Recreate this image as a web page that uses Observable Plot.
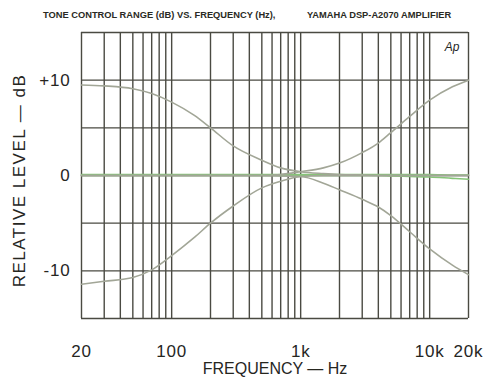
<!DOCTYPE html>
<html>
<head>
<meta charset="utf-8">
<script src="https://cdn.jsdelivr.net/npm/d3@7"></script>
<script src="https://cdn.jsdelivr.net/npm/@observablehq/plot@0.6"></script>
<style>
  html, body { margin: 0; padding: 0; background: #ffffff; }
  #wrap { position: relative; width: 492px; height: 379px; overflow: hidden; }
  #title { position: relative; height: 26px; font-family: "Liberation Sans", Arial, sans-serif; font-weight: bold; font-size: 9.3px; color: #2a2a24; }
  #title span { position: absolute; top: 10px; white-space: pre; }
  svg { display: block; }
</style>
</head>
<body>
<div id="wrap">
  <div id="title"><span id="t1" style="left:43px">TONE CONTROL RANGE (dB) VS. FREQUENCY (Hz),</span><span id="t2" style="left:307px">YAMAHA DSP-A2070 AMPLIFIER</span></div>
  <div id="chart"></div>
</div>
<script>
// Frequencies (Hz) at which curves were read
const freqs = [20, 30, 50, 70, 100, 150, 200, 300, 500, 700, 1000, 1500, 2000, 3000, 4000, 5000, 7000, 10000, 15000, 20000];
// Tone control extremes (dB)
const bassBoost   = [9.5, 9.4, 9.1, 8.6, 7.7, 6.3, 5.0, 3.1, 1.6, 0.8, 0.4, 0.2, 0.1, 0.05, 0, 0, 0, 0, 0, 0];
const bassCut     = [-11.4, -11.1, -10.7, -9.9, -8.4, -6.5, -5.0, -3.2, -1.3, -0.6, -0.1, 0, 0, 0, 0, 0, 0, 0, 0, 0];
const trebleBoost = [0, 0, 0, 0, 0, 0, 0, 0, 0, 0.1, 0.4, 0.8, 1.3, 2.4, 3.4, 4.5, 6.2, 7.9, 9.3, 10.0];
const trebleCut   = [0, 0, 0, 0, 0, 0, 0, 0, 0, -0.05, -0.1, -0.8, -1.5, -2.5, -3.3, -4.2, -5.9, -7.7, -9.4, -10.4];
// Flat (centre) settings
const flatA       = [0.1, 0.1, 0.1, 0.1, 0.1, 0.1, 0.1, 0.1, 0.1, 0.1, 0.1, 0.1, 0.1, 0.1, 0.1, 0.1, 0.1, 0.1, 0.05, 0.05];
const flatB       = [0, 0, 0, 0, 0, 0, 0, 0, 0, 0, 0, 0, 0, 0, 0, -0.05, -0.1, -0.15, -0.3, -0.4];

// Grid and tick labels
const gridFreqs = [20,30,40,50,60,70,80,90,100,200,300,400,500,600,700,800,900,1000,2000,3000,4000,5000,6000,7000,8000,9000,10000,20000];
const gridDb = [-15, -10, -5, 0, 5, 10, 15];
const xTicks = [20, 100, 1000, 10000, 20000];
const xTickLabels = ["20", "100", "1k", "10k", "20k"];
const yTicks = [10, 0, -10];
const yTickLabels = ["+10", "0", "-10"];

const toRows = (vals) => freqs.map((f, i) => ({f, v: vals[i]}));

const gridColor = "#4a4a42";
const curveColor = "#a2a697";
const greenColor = "#86c478";
const textColor = "#26261f";
const font = "'Liberation Sans', Arial, sans-serif";

const chart = Plot.plot({
  width: 492,
  height: 353,
  marginLeft: 81,
  marginRight: 24,
  marginTop: 6,
  marginBottom: 61,
  style: {fontFamily: font, background: "#ffffff"},
  x: {type: "log", domain: [20, 20000], axis: null},
  y: {domain: [-15, 15], axis: null},
  marks: [
    Plot.ruleX(gridFreqs, {x: d => d, stroke: gridColor, strokeWidth: 1.4}),
    Plot.ruleY(gridDb, {y: d => d, stroke: gridColor, strokeWidth: 1.4}),
    Plot.line(toRows(flatA), {x: "f", y: "v", stroke: greenColor, strokeWidth: 1.6, curve: "monotone-x"}),
    Plot.line(toRows(flatB), {x: "f", y: "v", stroke: greenColor, strokeWidth: 1.6, curve: "monotone-x"}),
    Plot.line(toRows(bassBoost), {x: "f", y: "v", stroke: curveColor, strokeWidth: 1.6, curve: "monotone-x"}),
    Plot.line(toRows(bassCut), {x: "f", y: "v", stroke: curveColor, strokeWidth: 1.6, curve: "monotone-x"}),
    Plot.line(toRows(trebleBoost), {x: "f", y: "v", stroke: curveColor, strokeWidth: 1.6, curve: "monotone-x"}),
    Plot.line(toRows(trebleCut), {x: "f", y: "v", stroke: curveColor, strokeWidth: 1.6, curve: "monotone-x"}),
    Plot.text(xTicks, {x: d => d, text: (d, i) => xTickLabels[i], frameAnchor: "bottom", dy: 38, fontSize: 17, fill: textColor}),
    Plot.text(yTicks, {y: d => d, text: (d, i) => yTickLabels[i], frameAnchor: "left", textAnchor: "end", dx: -11, fontSize: 17, fill: textColor}),
    Plot.text(["FREQUENCY — Hz"], {frameAnchor: "bottom", dy: 55, fontSize: 16, fill: textColor}),
    Plot.text(["RELATIVE LEVEL — dB"], {frameAnchor: "left", textAnchor: "middle", rotate: -90, dx: -62, dy: 5, fontSize: 17, fill: textColor}),
    Plot.text(["Ap"], {frameAnchor: "top-right", dx: -9, dy: 10, fontSize: 12, fontStyle: "italic", fill: textColor})
  ]
});
chart.querySelectorAll("text").forEach(t => {
  if (t.textContent.startsWith("RELATIVE")) t.style.letterSpacing = "1.5px";
  if (t.textContent.startsWith("RELATIVE")) return;
  if (/^[0-9+\-]/.test(t.textContent)) t.style.letterSpacing = "0.8px";
});
document.getElementById("chart").appendChild(chart);
</script>
</body>
</html>
